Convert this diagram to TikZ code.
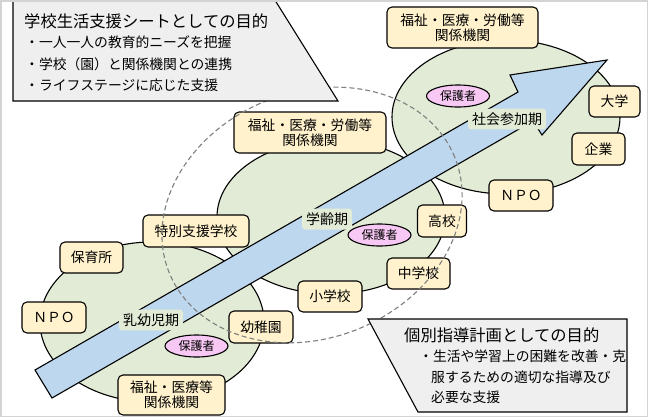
\documentclass[tikz,border=0pt]{standalone}
\usepackage{fontspec}
\setmainfont{Noto Sans CJK JP}
\usetikzlibrary{shapes.geometric}
\definecolor{egreen}{HTML}{E2EBD5}
\definecolor{ablue}{HTML}{BDD7EE}
\definecolor{byellow}{HTML}{FFF2CC}
\definecolor{ppink}{HTML}{F8C8F4}
\definecolor{gboxc}{HTML}{EFEFEF}
\definecolor{framec}{HTML}{D4D4D4}
\definecolor{dashc}{HTML}{7F7F7F}
\tikzset{
  gell/.style={fill=egreen, draw=black, line width=1.1pt},
  arrowst/.style={fill=ablue, draw=black, line width=1.1pt, line join=miter},
  lbl/.style={fill=egreen, rounded corners=3pt, inner xsep=4pt, inner ysep=4pt, font=\fontsize{14}{15}\selectfont},
  ybox/.style={draw=black, fill=byellow, rounded corners=5pt, line width=1.1pt, inner sep=0pt, align=center, font=\fontsize{13.8}{15}\selectfont},
  pinkell/.style={ellipse, draw=black, fill=ppink, line width=1.1pt, inner sep=0pt, minimum width=63pt, minimum height=22pt, font=\fontsize{12}{13}\selectfont},
  dashedl/.style={draw=dashc, line width=1.1pt, dash pattern=on 5pt off 3pt},
  gboxst/.style={fill=gboxc, draw=black, line width=1.1pt},
  ttl/.style={anchor=west, inner sep=0pt, font=\fontsize{16.3}{17}\selectfont},
  itm/.style={anchor=west, inner sep=0pt, font=\fontsize{13.8}{15}\selectfont},
}
\begin{document}
\begin{tikzpicture}[x=1pt,y=-1pt]
\useasboundingbox (0,0) rectangle (650,418);
\fill[white] (0,0) rectangle (650,418);

% life-stage ellipses
\path[gell] (506,117) ellipse [x radius=114pt, y radius=77pt];
\path[gell] (331,217) ellipse [x radius=114pt, y radius=77pt];
\path[gell] (152,322) ellipse [x radius=112pt, y radius=80pt];

% big arrow
\draw[arrowst] (35,370) -- (518,92) -- (510,75) -- (607,60) -- (542,135) -- (533,121) -- (52,398) -- cycle;

% stage labels
\node[lbl] (l1) at (151,320) {乳幼児期};
\node[lbl] (l2) at (327,219) {学齢期};
\node[lbl] (l3) at (507,119) {社会参加期};

% institutions
\node[ybox, minimum width=151pt, minimum height=41pt] (w3) at (462.5,27.5) {福祉・医療・労働等\\関係機関};
\node[ybox, minimum width=51pt, minimum height=31pt] (dg) at (614.5,101.5) {大学};
\node[ybox, minimum width=53pt, minimum height=32pt] (kg) at (598.5,149) {企業};
\node[ybox, minimum width=64pt, minimum height=31pt] (npo2) at (521,195.5) {ＮＰＯ};
\node[ybox, minimum width=49pt, minimum height=32pt] (hs) at (442,221) {高校};
\node[ybox, minimum width=63pt, minimum height=31pt] (jh) at (418.5,273.5) {中学校};
\node[ybox, minimum width=64pt, minimum height=31pt] (es) at (330,296.5) {小学校};
\node[ybox, minimum width=152pt, minimum height=41pt] (w2) at (310,132.5) {福祉・医療・労働等\\関係機関};
\node[ybox, minimum width=106pt, minimum height=32pt] (sp) at (196,231) {特別支援学校};
\node[ybox, minimum width=63pt, minimum height=31pt] (nur) at (91.5,257.5) {保育所};
\node[ybox, minimum width=64pt, minimum height=31pt] (npo1) at (54,317.5) {ＮＰＯ};
\node[ybox, minimum width=64pt, minimum height=32pt] (kin) at (261,327) {幼稚園};
\node[ybox, minimum width=107pt, minimum height=40pt] (w1) at (171.5,395) {福祉・医療等\\関係機関};

% guardians
\node[pinkell] (p1) at (196.5,346) {保護者};
\node[pinkell] (p2) at (379.5,235) {保護者};
\node[pinkell] (p3) at (458,96) {保護者};

% school-age range
\draw[dashedl, rotate around={22:(312,215)}] (312,215) ellipse [x radius=154pt, y radius=123pt];

% purpose boxes
\draw[gboxst] (13,-3) -- (13,101) -- (338,101) -- (273,-3) -- cycle;
\node[ttl] (t1) at (24,21) {学校生活支援シートとしての目的};
\node[itm] (t1a) at (25,42) {・一人一人の教育的ニーズを把握};
\node[itm] (t1b) at (25,64) {・学校（園）と関係機関との連携};
\node[itm] (t1c) at (25,85) {・ライフステージに応じた支援};

\draw[gboxst] (368,319) -- (627,319) -- (627,412) -- (418,412) -- cycle;
\node[ttl] (t2) at (404,335) {個別指導計画としての目的};
\node[itm] (t2a) at (419,356) {・生活や学習上の困難を改善・克};
\node[itm] (t2b) at (431,377) {服するための適切な指導及び};
\node[itm] (t2c) at (431,397) {必要な支援};

% frame
\draw[framec, line width=1.5pt] (0.75,0.75) rectangle (647.5,416.5);
\end{tikzpicture}
\end{document}
